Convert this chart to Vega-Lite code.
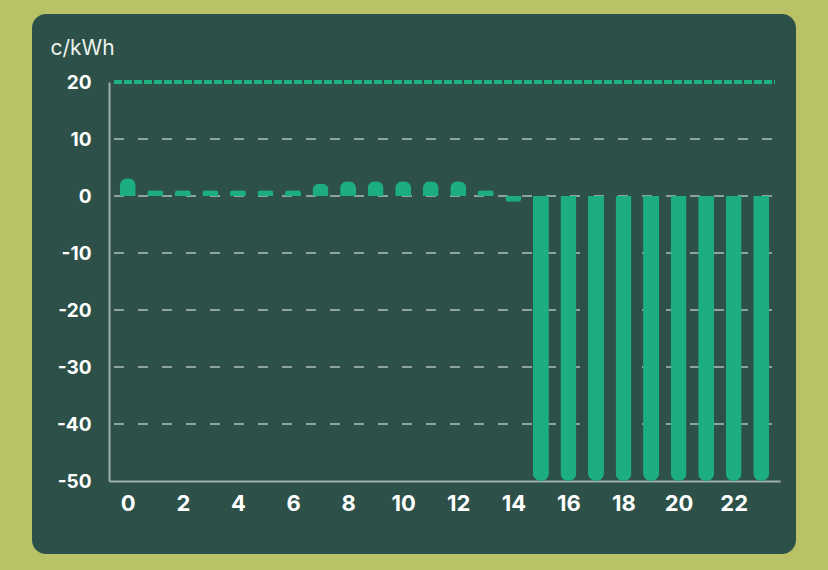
{
  "$schema": "https://vega.github.io/schema/vega-lite/v6.json",
  "width": 764,
  "height": 540,
  "autosize": {"type": "none"},
  "padding": {"left": 32, "top": 14, "right": 32, "bottom": 16},
  "background": "#b9c266",
  "config": {
    "view": {"stroke": null, "fill": "#2d5148", "cornerRadius": 14},
    "font": "Inter"
  },
  "datasets": {
    "prices": [
      {"hour": 0, "price": 3.1},
      {"hour": 1, "price": 1.0},
      {"hour": 2, "price": 1.0},
      {"hour": 3, "price": 1.0},
      {"hour": 4, "price": 1.0},
      {"hour": 5, "price": 1.0},
      {"hour": 6, "price": 1.0},
      {"hour": 7, "price": 2.1},
      {"hour": 8, "price": 2.6},
      {"hour": 9, "price": 2.6},
      {"hour": 10, "price": 2.6},
      {"hour": 11, "price": 2.6},
      {"hour": 12, "price": 2.6},
      {"hour": 13, "price": 1.0},
      {"hour": 14, "price": -1.0},
      {"hour": 15, "price": -50},
      {"hour": 16, "price": -50},
      {"hour": 17, "price": -50},
      {"hour": 18, "price": -50},
      {"hour": 19, "price": -50},
      {"hour": 20, "price": -50},
      {"hour": 21, "price": -50},
      {"hour": 22, "price": -50},
      {"hour": 23, "price": -50}
    ],
    "grid": [
      {"level": 10},
      {"level": 0},
      {"level": -10},
      {"level": -20},
      {"level": -30},
      {"level": -40}
    ],
    "limit": [
      {"level": 20}
    ]
  },
  "layer": [
    {
      "data": {"name": "grid"},
      "mark": {"type": "rule", "color": "#8fa39b", "strokeWidth": 2, "strokeDash": [10, 14]},
      "encoding": {
        "y": {"field": "level", "type": "quantitative"},
        "x": {"datum": -0.5},
        "x2": {"datum": 23.5}
      }
    },
    {
      "data": {"name": "prices"},
      "transform": [{"filter": "datum.price >= 0"}],
      "mark": {"type": "bar", "size": 16, "color": "#1cae80", "cornerRadiusTopLeft": 8, "cornerRadiusTopRight": 8},
      "encoding": {
        "x": {"field": "hour", "type": "quantitative"},
        "y": {"field": "price", "type": "quantitative"}
      }
    },
    {
      "data": {"name": "prices"},
      "transform": [{"filter": "datum.price < 0"}],
      "mark": {"type": "bar", "size": 16, "color": "#1cae80", "cornerRadiusBottomLeft": 8, "cornerRadiusBottomRight": 8},
      "encoding": {
        "x": {
          "field": "hour",
          "type": "quantitative",
          "scale": {"domain": [-0.5, 23.5], "nice": false, "zero": false, "range": [77, 748]},
          "axis": {
            "title": null,
            "offset": -73,
            "values": [0, 2, 4, 6, 8, 10, 12, 14, 16, 18, 20, 22],
            "grid": false,
            "ticks": false,
            "domainColor": "#9fb0a9",
            "domainWidth": 2,
            "labelColor": "#ffffff",
            "labelFont": "Inter",
            "labelFontSize": 22,
            "labelFontWeight": "bold",
            "labelPadding": 12,
            "labelBaseline": "top"
          }
        },
        "y": {
          "field": "price",
          "type": "quantitative",
          "scale": {"domain": [-50, 20], "nice": false, "range": [467, 68]},
          "axis": {
            "title": "c/kWh",
            "offset": -77,
            "titleAngle": 0,
            "titleX": -59,
            "titleY": 40,
            "titleAlign": "left",
            "titleBaseline": "alphabetic",
            "titleColor": "#eef3ef",
            "titleFont": "Inter",
            "titleFontSize": 21,
            "titleFontWeight": "normal",
            "values": [-50, -40, -30, -20, -10, 0, 10, 20],
            "labelExpr": "'' + datum.value",
            "grid": false,
            "ticks": false,
            "domainColor": "#9fb0a9",
            "domainWidth": 2,
            "labelColor": "#ffffff",
            "labelFont": "Inter",
            "labelFontSize": 19,
            "labelFontWeight": "bold",
            "labelPadding": 18
          }
        }
      }
    },
    {
      "data": {"name": "limit"},
      "mark": {"type": "rule", "color": "#1db27f", "strokeWidth": 4, "strokeDash": [8, 2]},
      "encoding": {
        "y": {"field": "level", "type": "quantitative"},
        "x": {"datum": -0.5},
        "x2": {"datum": 23.5}
      }
    }
  ]
}
